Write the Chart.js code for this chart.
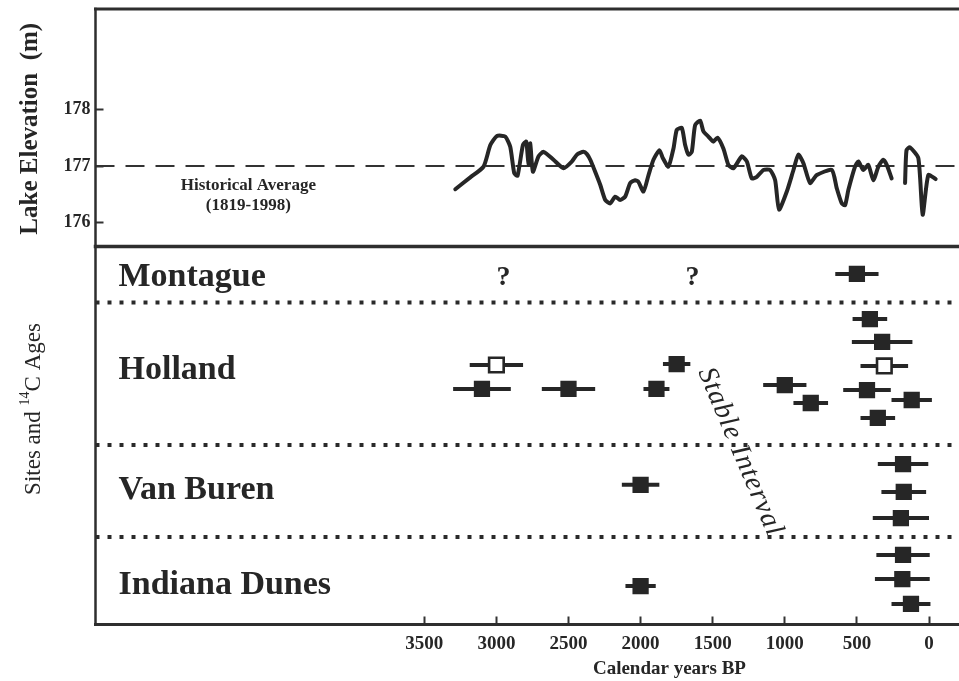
<!DOCTYPE html>
<html><head><meta charset="utf-8">
<script src="https://cdn.jsdelivr.net/npm/chart.js@4"></script>
<style>html,body{margin:0;padding:0;background:#fff;}</style>
</head><body>
<canvas id="c" width="959" height="681"></canvas>
<script>
// ---------- axes ----------
const xLeftYear = 5780, xRightYear = -208;
const yearTicks = [3500, 3000, 2500, 2000, 1500, 1000, 500, 0];
const elevMin = 175.58, elevMax = 179.77;
const elevTicks = [176, 177, 178];
const levelMin = 0, levelMax = 16.4;

// ---------- lake elevation curve (m) ----------
const lakeYearsA = [3285,3181,3089,3042,2996,2939,2904,2876,2853,2816,2793,2777,2765,2747,2708,2673,2604,2534,2476,2442,2396,2372,2349,2315,2280,2245,2211,2176,2142,2107,2072,2038,2015,1980,1945,1911,1869,1846,1807,1772,1749,1714,1691,1668,1645,1622,1587,1564,1530,1495,1467,1426,1391,1356,1298,1263,1229,1194,1148,1102,1067,1040,986,940,906,871,825,778,674,640,605,582,559,513,490,455,421,386,351,317,293,259];
const lakeElevA = [176.59,176.80,176.99,177.37,177.53,177.52,177.34,176.87,176.83,177.37,177.43,177.02,177.40,176.90,177.17,177.25,177.11,176.96,177.08,177.20,177.25,177.21,177.11,176.90,176.67,176.40,176.34,176.46,176.40,176.46,176.70,176.75,176.72,176.55,176.84,177.11,177.28,177.14,176.99,177.31,177.64,177.67,177.37,177.20,177.25,177.72,177.80,177.61,177.52,177.43,177.50,177.31,177.02,176.96,177.17,177.08,176.78,176.81,176.93,176.93,176.75,176.23,176.55,176.93,177.20,177.05,176.70,176.84,176.93,176.61,176.34,176.31,176.58,176.99,177.08,176.93,177.02,176.75,176.99,177.11,177.02,176.78];
const lakeYearsB = [166, 156, 132, 74, 44, 5, -46];
const lakeElevB = [176.70, 177.28, 177.33, 177.14, 176.14, 176.84, 176.77];
const histAvg = 177;
const histLabel = ['Historical Average', '(1819-1998)'];

// ---------- sites and 14C ages ----------
const siteNames = ['Montague', 'Holland', 'Van Buren', 'Indiana Dunes'];
const siteLevels = [15.08, 11.04, 5.84, 1.71];
const separatorLevels = [13.97, 7.79, 3.80];
const ageYears  = [500, 3100, 3000, 2500, 1890, 1750, 1000, 820, 430, 410, 355, 325, 310, 120, 2000, 180, 175, 195, 2000, 180, 185, 125];
const ageErrors = [150,  200,  185,  185,   90,   95,  150, 120, 165, 120, 120, 210, 165, 140,  130, 175, 155, 195,  105, 185, 190, 135];
const ageLevels = [15.21, 10.22, 11.26, 10.22, 10.22, 11.30, 10.39, 9.61, 10.17, 13.25, 8.96, 12.26, 11.22, 9.74, 6.06, 6.96, 5.75, 4.62, 1.67, 3.02, 1.97, 0.89];
const ageOpen   = [false, false, true, false, false, false, false, false, false, false, false, false, true, false, false, false, false, false, false, false, false, false];
const unknownYears = [2950, 1640];
const unknownLevel = 15.05;

const INK = '#262626';
const SERIF = '"Liberation Serif", "Times New Roman", serif';

const pts = (xs, ys) => xs.map((v, i) => ({x: v, y: ys[i]}));
const filled = ageYears.map((v, i) => ({x: v, y: ageLevels[i]})).filter((p, i) => !ageOpen[i]);
const open = ageYears.map((v, i) => ({x: v, y: ageLevels[i]})).filter((p, i) => ageOpen[i]);

const datasets = [
  {type: 'scatter', data: filled, xAxisID: 'x', yAxisID: 'yBot', pointStyle: 'rect', pointRadius: 11.5,
   pointBackgroundColor: INK, pointBorderWidth: 0, order: 0},
  {type: 'scatter', data: open, xAxisID: 'x', yAxisID: 'yBot', pointStyle: 'rect', pointRadius: 10.3,
   pointBackgroundColor: '#fff', pointBorderColor: INK, pointBorderWidth: 2.6, order: 0},
  {type: 'line', data: pts(lakeYearsA, lakeElevA), xAxisID: 'x', yAxisID: 'yTop', borderColor: INK, borderWidth: 4,
   pointRadius: 0, tension: 0.2, borderJoinStyle: 'round', borderCapStyle: 'round', order: 1},
  {type: 'line', data: pts(lakeYearsB, lakeElevB), xAxisID: 'x', yAxisID: 'yTop', borderColor: INK, borderWidth: 4,
   pointRadius: 0, tension: 0.2, borderJoinStyle: 'round', borderCapStyle: 'round', order: 1},
  {type: 'line', data: [{x: xLeftYear, y: histAvg}, {x: xRightYear, y: histAvg}], xAxisID: 'x', yAxisID: 'yTop',
   borderColor: '#333', borderWidth: 2, borderDash: [19, 11], pointRadius: 0, order: 2}
].concat(separatorLevels.map(l => ({
  type: 'line', data: [{x: xLeftYear, y: l}, {x: xRightYear, y: l}], xAxisID: 'x', yAxisID: 'yBot',
  borderColor: '#2a2a2a', borderWidth: 4, borderDash: [4, 8], pointRadius: 0, order: 3
})));

function text(ctx, s, x, y, font, align, base) {
  ctx.font = font; ctx.textAlign = align || 'left'; ctx.textBaseline = base || 'middle'; ctx.fillText(s, x, y);
}

function noPad(s) { s.paddingTop = 0; s.paddingBottom = 0; s.paddingLeft = 0; s.paddingRight = 0; }

const annot = {
  id: 'annot',
  beforeDatasetsDraw(chart) {
    const {ctx, chartArea: ca, scales: {x, yBot}} = chart;
    ctx.save();
    ctx.beginPath(); ctx.rect(ca.left, ca.top, ca.width, ca.height); ctx.clip();
    ctx.strokeStyle = INK; ctx.lineWidth = 4; ctx.lineCap = 'butt';
    ageYears.forEach((yr, i) => {
      const y = yBot.getPixelForValue(ageLevels[i]);
      ctx.beginPath();
      ctx.moveTo(x.getPixelForValue(yr + ageErrors[i]), y);
      ctx.lineTo(x.getPixelForValue(yr - ageErrors[i]), y);
      ctx.stroke();
    });
    ctx.restore();
  },
  afterDatasetsDraw(chart) {
    const {ctx, chartArea: ca, scales: {x, yTop, yBot}} = chart;
    ctx.save();
    ctx.fillStyle = INK;
    siteNames.forEach((s, i) => text(ctx, s, ca.left + 23, yBot.getPixelForValue(siteLevels[i]), 'bold 34px ' + SERIF));
    unknownYears.forEach(yr => text(ctx, '?', x.getPixelForValue(yr), yBot.getPixelForValue(unknownLevel), 'bold 28px ' + SERIF, 'center'));
    text(ctx, histLabel[0], x.getPixelForValue(4720), yTop.getPixelForValue(176.65), 'bold 17px ' + SERIF, 'center');
    text(ctx, histLabel[1], x.getPixelForValue(4720), yTop.getPixelForValue(176.30), 'bold 17px ' + SERIF, 'center');
    ctx.save();
    ctx.translate(x.getPixelForValue(1310), yBot.getPixelForValue(7.48));
    ctx.rotate(67 * Math.PI / 180);
    ctx.letterSpacing = '1px';
    text(ctx, 'Stable Interval', 0, 0, 'italic 28px ' + SERIF, 'center');
    ctx.restore();
    ctx.restore();
  },
  afterDraw(chart) {
    const {ctx, chartArea: ca, scales: {x, yTop, yBot}} = chart;
    ctx.save();
    ctx.strokeStyle = '#2e2e2e';
    ctx.lineCap = 'square';
    const line = (x1, y1, x2, y2, w) => { ctx.lineWidth = w; ctx.beginPath(); ctx.moveTo(x1, y1); ctx.lineTo(x2, y2); ctx.stroke(); };
    line(ca.left, ca.top, ca.right + 5, ca.top, 3);
    line(ca.left, yTop.bottom, ca.right + 5, yTop.bottom, 3.5);
    line(ca.left, ca.bottom, ca.right + 5, ca.bottom, 3);
    line(ca.left, ca.top, ca.left, ca.bottom, 2.5);
    ctx.fillStyle = INK;
    text(ctx, 'Calendar years BP', x.getPixelForValue(1800), ca.bottom + 44.5, 'bold 19px ' + SERIF, 'center');
    ctx.save();
    ctx.translate(31, (yTop.top + yTop.bottom) / 2 + 1);
    ctx.rotate(-Math.PI / 2);
    text(ctx, 'Lake Elevation  (m)', 0, 0, 'bold 25px ' + SERIF, 'center');
    ctx.restore();
    ctx.save();
    ctx.translate(34, yBot.getPixelForValue(9.35));
    ctx.rotate(-Math.PI / 2);
    const parts = [['Sites and ', 23, 0], ['14', 14, -9], ['C Ages', 23, 0]];
    let total = 0;
    parts.forEach(p => { ctx.font = p[1] + 'px ' + SERIF; total += ctx.measureText(p[0]).width; });
    let cx = -total / 2;
    parts.forEach(p => {
      text(ctx, p[0], cx, p[2], p[1] + 'px ' + SERIF, 'left', 'middle');
      cx += ctx.measureText(p[0]).width;
    });
    ctx.restore();
    ctx.restore();
  }
};

new Chart(document.getElementById('c'), {
  type: 'line',
  data: {datasets},
  plugins: [annot],
  options: {
    responsive: false,
    animation: false,
    layout: {autoPadding: false, padding: {top: 9, left: 0, right: 0, bottom: 0}},
    plugins: {legend: {display: false}, tooltip: {enabled: false}},
    scales: {
      x: {
        type: 'linear', position: 'bottom', reverse: true, min: xRightYear, max: xLeftYear,
        afterBuildTicks: s => { s.ticks = yearTicks.map(v => ({value: v})); },
        ticks: {font: {family: SERIF, size: 19, weight: 'bold'}, color: INK, padding: 16, maxRotation: 0, autoSkip: false,
                callback: v => String(v)},
        grid: {drawOnChartArea: false, drawTicks: true, tickLength: -8, tickWidth: 2, tickColor: '#333'},
        border: {display: false},
        afterFit: s => { s.height = 56.5; noPad(s); }
      },
      yTop: {
        type: 'linear', position: 'left', stack: 'panels', stackWeight: 237.5, weight: 2,
        min: elevMin, max: elevMax,
        afterBuildTicks: s => { s.ticks = elevTicks.map(v => ({value: v})); },
        ticks: {font: {family: SERIF, size: 18, weight: 'bold'}, color: INK, padding: 13, callback: v => String(v)},
        grid: {drawOnChartArea: false, drawTicks: true, tickLength: -8, tickWidth: 2, tickColor: '#333'},
        border: {display: false},
        afterFit: s => { s.width = 95.5; noPad(s); }
      },
      yBot: {
        type: 'linear', position: 'left', stack: 'panels', stackWeight: 378, weight: 1,
        min: levelMin, max: levelMax,
        ticks: {display: false},
        grid: {display: false},
        border: {display: false},
        afterFit: s => { s.width = 95.5; noPad(s); }
      }
    }
  }
});
</script>
</body></html>
